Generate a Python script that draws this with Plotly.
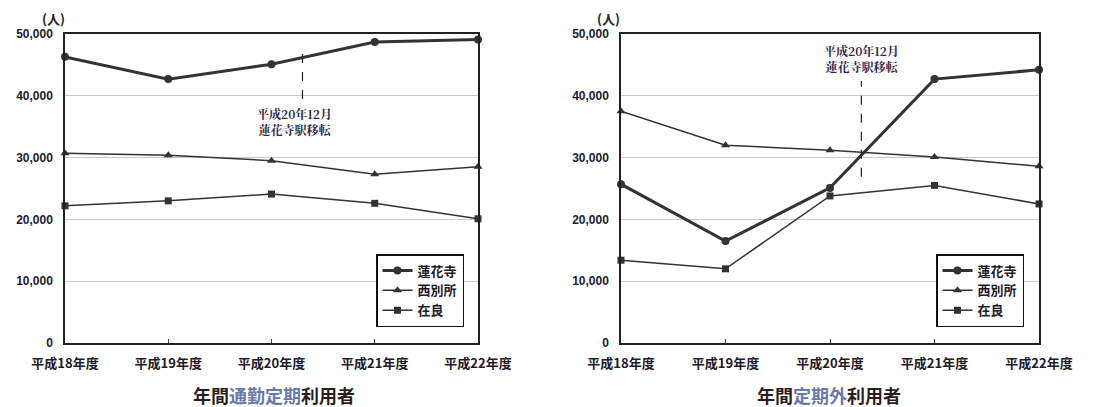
import plotly.graph_objects as go

years = ["平成18年度", "平成19年度", "平成20年度", "平成21年度", "平成22年度"]
stations = ["蓮花寺", "西別所", "在良"]

# 年間通勤定期利用者
commute_renge = [46300, 42700, 45100, 48700, 49100]
commute_nishi = [30700, 30400, 29500, 27300, 28500]
commute_zaira = [22200, 23000, 24100, 22600, 20100]

# 年間定期外利用者
noncommute_renge = [25700, 16500, 25100, 42700, 44200]
noncommute_nishi = [37500, 32000, 31200, 30100, 28600]
noncommute_zaira = [13400, 12000, 23800, 25500, 22500]

yticks = [0, 10000, 20000, 30000, 40000, 50000]
ytick_text = ["0", "10,000", "20,000", "30,000", "40,000", "50,000"]

note_text = "平成20年12月<br>蓮花寺駅移転"

LINE = "#333333"
styles = [
    dict(width=3, symbol="circle", size=8),
    dict(width=1.5, symbol="triangle-up", size=8),
    dict(width=1.5, symbol="square", size=7),
]

fig = go.Figure()

panels = [
    ("x", "y", "legend", [commute_renge, commute_nishi, commute_zaira]),
    ("x2", "y2", "legend2", [noncommute_renge, noncommute_nishi, noncommute_zaira]),
]
for xa, ya, lg, series in panels:
    for name, vals, st in zip(stations, series, styles):
        fig.add_trace(go.Scatter(
            x=years, y=vals, name=name, mode="lines+markers",
            xaxis=xa, yaxis=ya, legend=lg, cliponaxis=False,
            line=dict(color=LINE, width=st["width"]),
            marker=dict(symbol=st["symbol"], size=st["size"], color=LINE),
        ))

tickfont_y = dict(family="Arial, Liberation Sans", size=12, color="#221a30", weight="bold")
tickfont_x = dict(family="Noto Sans CJK JP", size=13, color="#221a28", weight="bold")

ydom = [64 / 407, 373 / 407]
xdom1 = [65 / 1110, 478 / 1110]
xdom2 = [621 / 1110, 1039 / 1110]

def xaxis(dom, anchor):
    return dict(domain=dom, anchor=anchor, type="category", range=[0, 4],
                showline=True, linecolor="#222", linewidth=1.5, mirror=True,
                showgrid=False, ticks="inside", ticklen=4, tickcolor="#444",
                tickfont=tickfont_x, ticklabelstandoff=8, zeroline=False,
                automargin=False)

def yaxis(anchor):
    return dict(domain=ydom, anchor=anchor, range=[0, 50000],
                tickvals=yticks, ticktext=ytick_text,
                showline=True, linecolor="#222", linewidth=1.5, mirror=True,
                showgrid=True, gridcolor="#c8c8c8", gridwidth=1,
                ticks="", tickfont=tickfont_y, ticklabelstandoff=8, zeroline=False,
                automargin=False)

legend_style = dict(bgcolor="white", bordercolor="#111", borderwidth=1.5,
                    font=dict(family="Noto Sans CJK JP", size=13, color="#221a28", weight="bold"),
                    xanchor="left", yanchor="top", tracegroupgap=0, itemwidth=30)

fig.update_layout(
    width=1110, height=407, margin=dict(l=0, r=0, t=0, b=0, autoexpand=False),
    paper_bgcolor="white", plot_bgcolor="white",
    xaxis=xaxis(xdom1, "y"), yaxis=yaxis("x"),
    xaxis2=xaxis(xdom2, "y2"), yaxis2=yaxis("x2"),
    legend=dict(x=376 / 1110, y=(407 - 254) / 407, **legend_style),
    legend2=dict(x=936 / 1110, y=(407 - 254) / 407, **legend_style),
    showlegend=True,
)

# dashed relocation markers
fig.add_shape(type="line", xref="x", yref="y", x0=2.3, x1=2.3, y0=39500, y1=47500,
              line=dict(color="#222", width=1.2, dash="dash"))
fig.add_shape(type="line", xref="x2", yref="y2", x0=2.3, x1=2.3, y0=26900, y1=42400,
              line=dict(color="#222", width=1.2, dash="dash"))

note_font = dict(family="Noto Serif CJK JP, Noto Sans CJK JP", size=12, color="#2e2448", weight="bold")
fig.add_annotation(xref="x", yref="y", x=2.22, y=35800, text=note_text, showarrow=False,
                   font=note_font, align="center", xanchor="center", yanchor="middle")
fig.add_annotation(xref="x2", yref="y2", x=2.3, y=46100, text=note_text, showarrow=False,
                   font=note_font, align="center", xanchor="center", yanchor="middle")

# unit labels
for xp in (53, 609):
    fig.add_annotation(xref="paper", yref="paper", x=xp / 1110, y=(407 - 18) / 407,
                       text="(人)", showarrow=False, xanchor="center", yanchor="middle",
                       font=dict(family="Noto Sans CJK JP", size=13, color="#222", weight="bold"))

title_font = dict(family="Noto Sans CJK JP", size=18, color="#2a1e22", weight="bold")
fig.add_annotation(xref="paper", yref="paper", x=274 / 1110, y=(407 - 395) / 407,
                   text='年間<span style="color:#6a78a8">通勤定期</span>利用者',
                   showarrow=False, font=title_font, xanchor="center", yanchor="middle")
fig.add_annotation(xref="paper", yref="paper", x=829 / 1110, y=(407 - 395) / 407,
                   text='年間<span style="color:#6a78a8">定期外</span>利用者',
                   showarrow=False, font=title_font, xanchor="center", yanchor="middle")

fig.write_html("out.html", config={"displayModeBar": False})

# remove the default page margin so the figure sits at the window origin
with open("out.html", "r", encoding="utf-8") as f:
    html = f.read()
html = html.replace("<head>", "<head><style>html,body{margin:0;padding:0;overflow:hidden;}</style>", 1)
with open("out.html", "w", encoding="utf-8") as f:
    f.write(html)
